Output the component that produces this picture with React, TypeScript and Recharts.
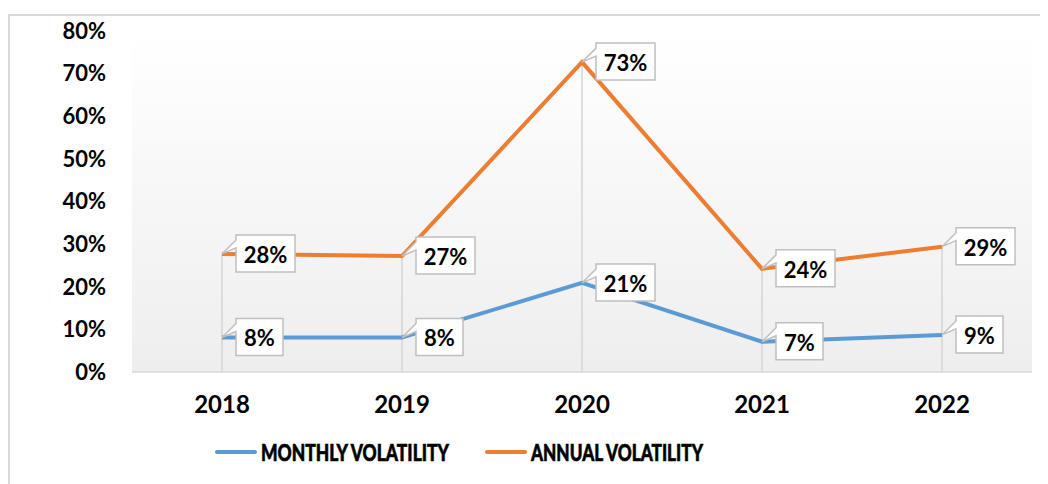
import React from "react";
import {
  LineChart,
  Line,
  XAxis,
  YAxis,
  CartesianGrid,
  ReferenceLine,
  LabelList,
} from "recharts";

const years = ["2018", "2019", "2020", "2021", "2022"];
const monthlyVolatility = [8.1, 8.1, 20.9, 7.1, 8.7];
const annualVolatility = [27.7, 27.2, 72.7, 24.2, 29.4];
const yTicks = [0, 10, 20, 30, 40, 50, 60, 70, 80];

const BLUE = "#5b9bd5";
const ORANGE = "#ed7d31";
const FONT = "Lato, 'Open Sans', sans-serif";

const data = years.map((year, i) => ({
  year,
  monthly: monthlyVolatility[i],
  annual: annualVolatility[i],
}));

function CalloutLabel(props: any) {
  const { x, y, value } = props;
  if (x == null || y == null) return null;
  const text = `${Math.round(value)}%`;
  const digits = text.length - 1;
  const w = 35 + 12 * digits;
  const h = 37;
  const left = x + 14;
  const top = y - 19;
  const d = `M${left},${top} H${left + w} V${top + h} H${left} V${y - 6} L${x},${y} L${left},${y - 14} Z`;
  return (
    <g>
      <path d={d} fill="#fff" stroke="#bfbfbf" strokeWidth={1.5} />
      <text
        x={left + w / 2}
        y={top + h / 2 + 1}
        textAnchor="middle"
        dominantBaseline="central"
        fontFamily={FONT}
        fontWeight="bold"
        fontSize={22}
        fill="#000"
      >
        {text}
      </text>
    </g>
  );
}

const legendItems = [
  { name: "MONTHLY VOLATILITY", color: BLUE, x: 205, len: 188 },
  { name: "ANNUAL VOLATILITY", color: ORANGE, x: 475, len: 172 },
];

function ChartLegend() {
  return (
    <svg
      width={1040}
      height={40}
      style={{ display: "block", position: "absolute", top: 420, left: 0 }}
    >
      {legendItems.map((it) => (
        <g key={it.name}>
          <line
            x1={it.x + 2}
            x2={it.x + 40}
            y1={16}
            y2={16}
            stroke={it.color}
            strokeWidth={4}
            strokeLinecap="round"
          />
          <text
            x={it.x + 46}
            y={25}
            fontFamily={FONT}
            fontWeight={900}
            fontSize={23}
            fill="#000"
            stroke="#000"
            strokeWidth={0.6}
            textLength={it.len}
            lengthAdjust="spacingAndGlyphs"
          >
            {it.name}
          </text>
        </g>
      ))}
    </svg>
  );
}

export default function App() {
  return (
    <div
      style={{
        position: "relative",
        top: 6,
        width: 1040,
        height: 480,
        borderTop: "2px solid #d9d9d9",
        borderLeft: "2px solid #d9d9d9",
        background: "#fff",
      }}
    >
      <LineChart
        width={1038}
        height={470}
        data={data}
        margin={{ top: 15, right: 16, bottom: 84, left: 0 }}
      >
        <defs>
          <linearGradient id="plotBg" x1="0" y1="0" x2="0" y2="1">
            <stop offset="0%" stopColor="#ffffff" />
            <stop offset="100%" stopColor="#eeeeee" />
          </linearGradient>
        </defs>
        <CartesianGrid horizontal={false} vertical={false} fill="url(#plotBg)" />
        <XAxis
          dataKey="year"
          height={30}
          padding={{ left: 90, right: 90 }}
          tickLine={false}
          tickSize={0}
          tickMargin={24}
          axisLine={{ stroke: "#d9d9d9", strokeWidth: 1.5 }}
          tick={{ fontSize: 24, fontWeight: "bold", fill: "#000", fontFamily: FONT }}
        />
        <YAxis
          width={122}
          domain={[0, 80]}
          ticks={yTicks}
          tickFormatter={(v) => `${v}%`}
          tickLine={false}
          tickSize={0}
          tickMargin={26}
          axisLine={false}
          tick={{ fontSize: 22, fontWeight: "bold", fill: "#000", fontFamily: FONT }}
        />
        {data.map((d) => (
          <ReferenceLine
            key={d.year}
            segment={[
              { x: d.year, y: 0 },
              { x: d.year, y: d.annual },
            ]}
            stroke="#d4d4d4"
            strokeWidth={1.5}
          />
        ))}
        <Line
          type="linear"
          dataKey="monthly"
          name="MONTHLY VOLATILITY"
          stroke={BLUE}
          strokeWidth={4}
          dot={false}
          activeDot={false}
          isAnimationActive={false}
        >
          <LabelList dataKey="monthly" content={CalloutLabel} />
        </Line>
        <Line
          type="linear"
          dataKey="annual"
          name="ANNUAL VOLATILITY"
          stroke={ORANGE}
          strokeWidth={4}
          dot={false}
          activeDot={false}
          isAnimationActive={false}
        >
          <LabelList dataKey="annual" content={CalloutLabel} />
        </Line>
      </LineChart>
      <ChartLegend />
    </div>
  );
}
